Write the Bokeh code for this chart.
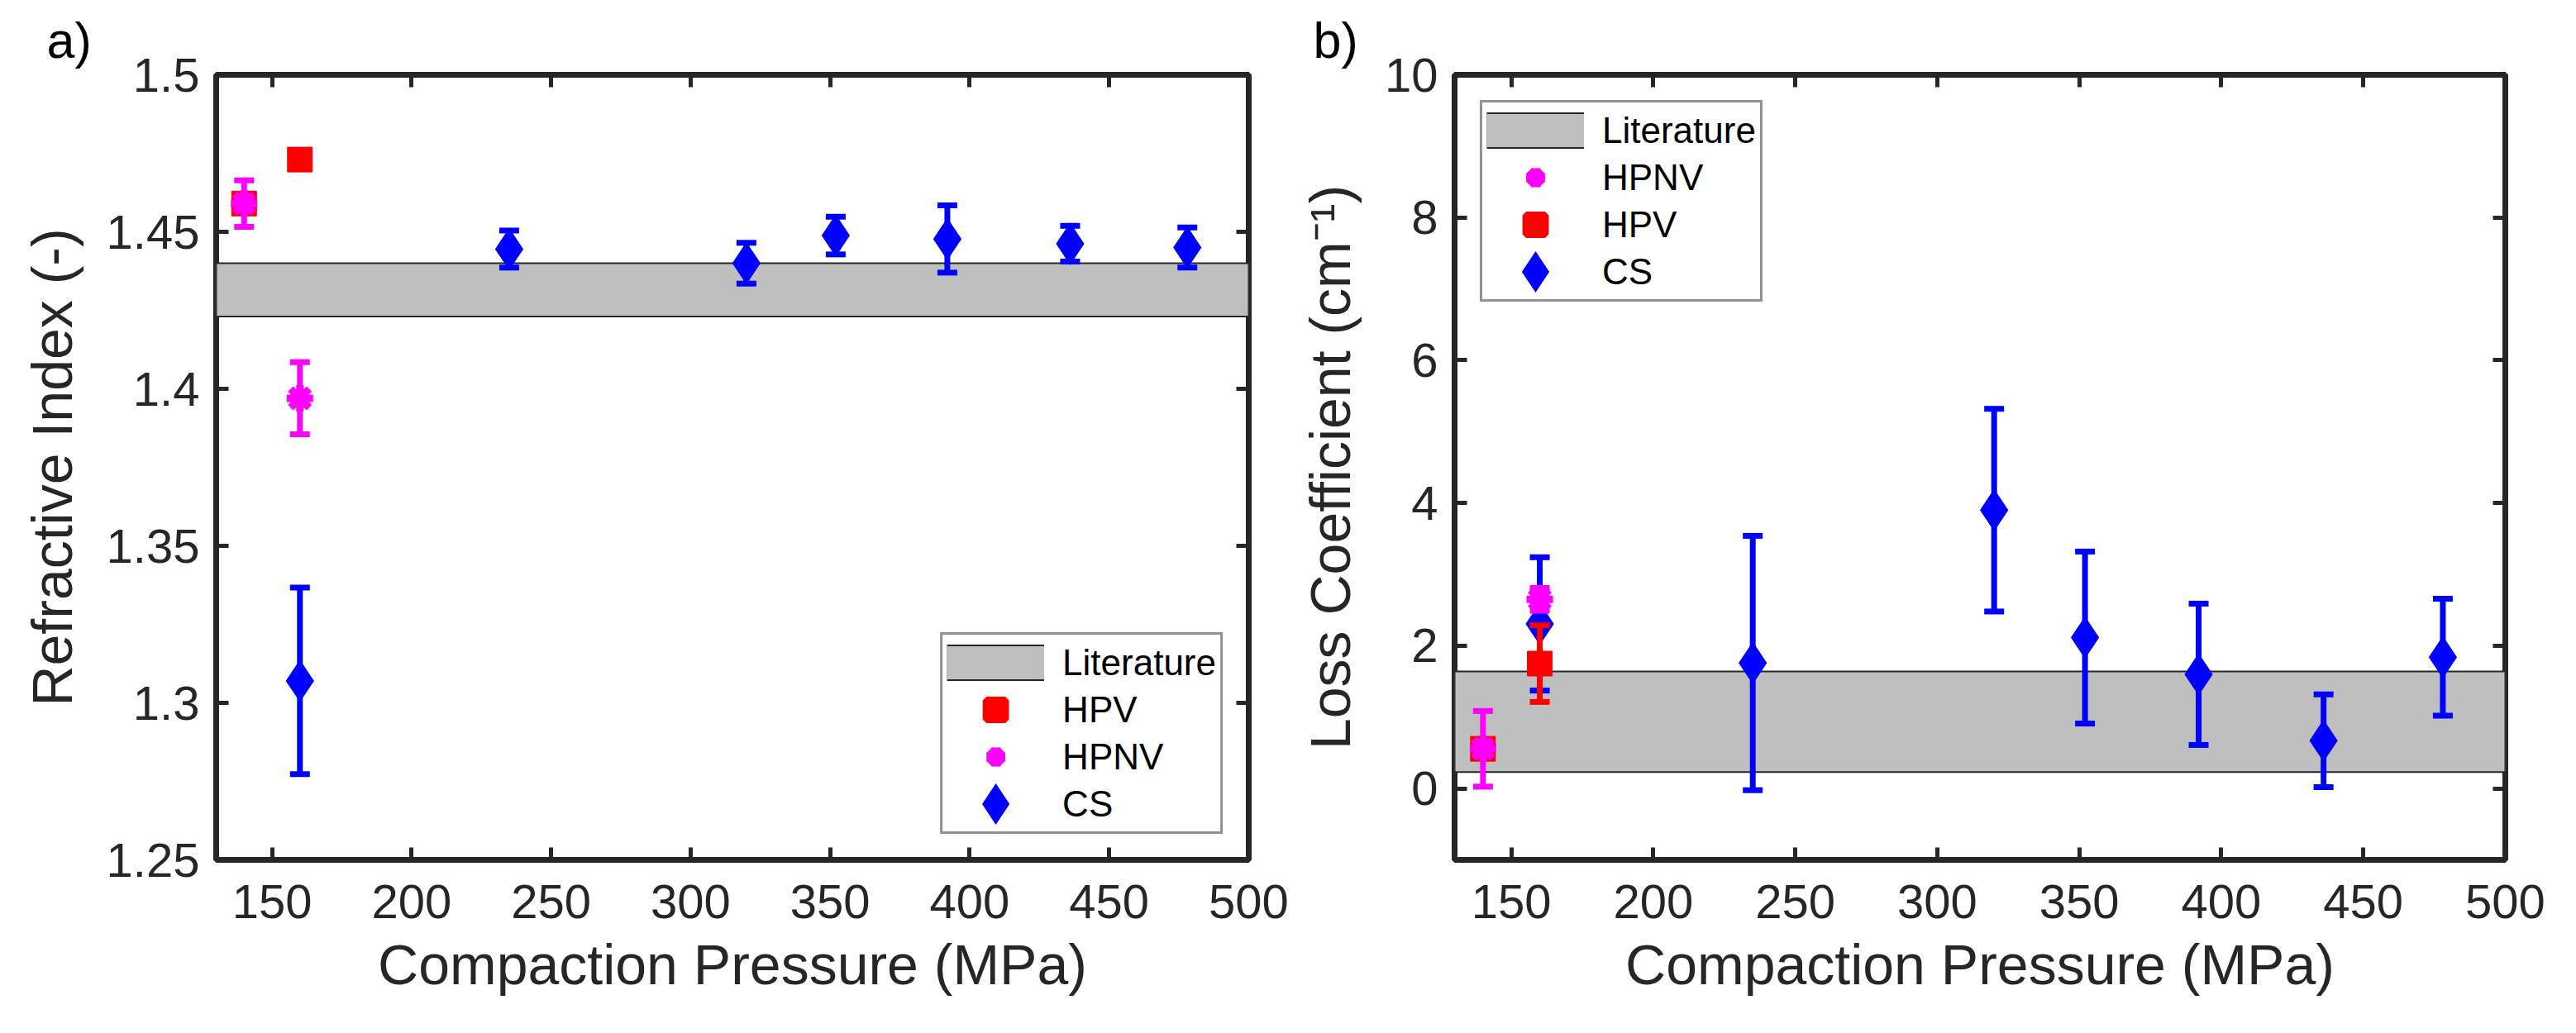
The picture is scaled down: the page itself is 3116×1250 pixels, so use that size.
import numpy as np
from bokeh.plotting import figure
from bokeh.models import (Range1d, LinearAxis, FixedTicker, CustomJSTickFormatter,
                          Legend, LegendItem, ColumnDataSource)
from bokeh.layouts import row
from bokeh.embed import file_html
from bokeh.resources import INLINE

# ---------------- data ----------------
x_limits = [130, 500]
x_ticks = [150, 200, 250, 300, 350, 400, 450, 500]

# panel a) refractive index
a_y_limits = [1.25, 1.5]
a_y_ticks = [1.25, 1.3, 1.35, 1.4, 1.45, 1.5]
a_y_tick_labels = ["1.25", "1.3", "1.35", "1.4", "1.45", "1.5"]
a_lit_band = [1.423, 1.44]
a_hpv_x = [140, 160]
a_hpv_y = [1.459, 1.473]
a_hpv_err = [0.0, 0.0]
a_hpnv_x = [140, 160]
a_hpnv_y = [1.459, 1.397]
a_hpnv_err = [0.0074, 0.0115]
a_cs_x = [160, 235, 320, 352, 392, 436, 478]
a_cs_y = [1.307, 1.4445, 1.440, 1.4488, 1.4477, 1.4462, 1.445]
a_cs_err = [0.0297, 0.0059, 0.0065, 0.0060, 0.0107, 0.0057, 0.0064]

# panel b) loss coefficient
b_y_limits = [-1, 10]
b_y_ticks = [0, 2, 4, 6, 8, 10]
b_y_tick_labels = ["0", "2", "4", "6", "8", "10"]
b_lit_band = [0.23, 1.64]
b_hpnv_x = [140, 160]
b_hpnv_y = [0.556, 2.65]
b_hpnv_err = [0.53, 0.16]
b_hpv_x = [140, 160]
b_hpv_y = [0.556, 1.75]
b_hpv_err = [0.0, 0.537]
b_cs_x = [160, 235, 320, 352, 392, 436, 478]
b_cs_y = [2.306, 1.758, 3.90, 2.115, 1.60, 0.67, 1.84]
b_cs_err = [0.934, 1.782, 1.42, 1.205, 0.99, 0.65, 0.82]

# ---------------- style ----------------
FONT = "Liberation Sans"
DARK = "#262626"
RED = "#ff0000"
MAGENTA = "#ff00ff"
BLUE = "#0000ff"
GRAY = "#bfbfbf"
NAN = float("nan")


def style_axis(ax, show_labels=True):
    ax.axis_line_color = None
    ax.major_tick_in = 15
    ax.major_tick_out = 0
    ax.minor_tick_line_color = None
    ax.major_tick_line_color = DARK
    ax.major_tick_line_width = 5
    ax.major_label_text_font = FONT
    ax.major_label_text_font_size = "58px"
    ax.major_label_text_color = DARK
    ax.axis_label_text_font = FONT
    ax.axis_label_text_font_size = "68px"
    ax.axis_label_text_font_style = "normal"
    ax.axis_label_text_color = DARK
    if not show_labels:
        ax.formatter = CustomJSTickFormatter(code="return ''")
        ax.major_label_standoff = 0


def make_fig(width, border_left, border_right, y_limits, y_ticks, y_tick_labels, y_label,
             panel_text, panel_offset):
    p = figure(width=width, height=1250,
               x_range=Range1d(*x_limits), y_range=Range1d(*y_limits),
               output_backend="svg", toolbar_location=None,
               min_border_left=border_left, min_border_right=border_right,
               min_border_top=90, min_border_bottom=210)
    p.grid.visible = False
    p.background_fill_color = "white"
    p.border_fill_color = "white"
    p.outline_line_color = DARK
    p.outline_line_width = 7

    p.title.text = panel_text
    p.title.align = "left"
    p.title.vertical_align = "top"
    p.title.offset = panel_offset
    p.title.text_font = FONT
    p.title.text_font_size = "61px"
    p.title.text_font_style = "normal"
    p.title.text_color = "black"
    p.title.standoff = 11

    xa = p.xaxis[0]
    ya = p.yaxis[0]
    style_axis(xa)
    style_axis(ya)
    xa.ticker = FixedTicker(ticks=x_ticks)
    ya.ticker = FixedTicker(ticks=y_ticks)
    ya.major_label_overrides = {t: l for t, l in zip(y_ticks, y_tick_labels)}
    xa.axis_label = "Compaction Pressure (MPa)"
    ya.axis_label = y_label
    xa.major_label_standoff = 30
    xa.axis_label_standoff = 15
    ya.major_label_standoff = 20
    ya.axis_label_standoff = 25

    top = LinearAxis(ticker=FixedTicker(ticks=x_ticks))
    style_axis(top, show_labels=False)
    p.add_layout(top, "above")
    right = LinearAxis(ticker=FixedTicker(ticks=y_ticks))
    style_axis(right, show_labels=False)
    p.add_layout(right, "right")
    return p


def add_band(p, band):
    p.quad(left=[x_limits[0]], right=[x_limits[1]], bottom=[band[0]], top=[band[1]],
           fill_color=GRAY, line_color=DARK, line_width=2)


def add_series(p, xs, ys, errs, color, marker, size, **mk):
    x = np.array(xs, dtype=float)
    y = np.array(ys, dtype=float)
    e = np.array(errs, dtype=float)
    src = ColumnDataSource(dict(x=x, y=y, lo=y - e, hi=y + e))
    p.segment(x0="x", y0="lo", x1="x", y1="hi", source=src, line_color=color, line_width=7)
    p.scatter(x="x", y="lo", source=src, marker="dash", size=24, line_color=color, line_width=7)
    p.scatter(x="x", y="hi", source=src, marker="dash", size=24, line_color=color, line_width=7)
    p.scatter(x="x", y="y", source=src, marker=marker, size=size,
              fill_color=color, line_color=color, **mk)


def legend_renderers(p):
    # legend-only swatches (no visible data)
    lit_edge = p.line(x=[NAN], y=[NAN], line_color=DARK, line_width=44)
    lit_fill = p.line(x=[NAN], y=[NAN], line_color=GRAY, line_width=40)
    hpv = p.scatter(x=[NAN], y=[NAN], marker="square", fill_color=RED, line_color=RED, line_width=9)
    hpnv = p.scatter(x=[NAN], y=[NAN], marker="asterisk", line_color=MAGENTA, line_width=11)
    cs = p.scatter(x=[NAN], y=[NAN], marker="diamond", fill_color=BLUE, line_color=BLUE,
                   line_width=15, line_join="miter")
    return {"Literature": [lit_edge, lit_fill], "HPV": [hpv], "HPNV": [hpnv], "CS": [cs]}


def add_legend(p, order, location):
    rs = legend_renderers(p)
    items = [LegendItem(label=k, renderers=rs[k]) for k in order]
    lg = Legend(items=items, location=location, glyph_width=118, glyph_height=57,
                spacing=0, padding=5, label_standoff=22,
                label_text_font=FONT, label_text_font_size="44px", label_text_color="black",
                border_line_color=DARK, border_line_width=3,
                background_fill_color="white", background_fill_alpha=1.0, margin=31)
    p.add_layout(lg)


# ---------------- panel a ----------------
pa = make_fig(1560, 261, 50, a_y_limits, a_y_ticks, a_y_tick_labels, "Refractive Index (-)",
              "a)", -205)
add_band(pa, a_lit_band)
add_series(pa, a_cs_x, a_cs_y, a_cs_err, BLUE, "diamond", 46, line_width=3, line_join="miter")
add_series(pa, a_hpv_x, a_hpv_y, a_hpv_err, RED, "square", 30)
add_series(pa, a_hpnv_x, a_hpnv_y, a_hpnv_err, MAGENTA, "asterisk", 32, line_width=9)
add_legend(pa, ["Literature", "HPV", "HPNV", "CS"], "bottom_right")

# ---------------- panel b ----------------
pb = make_fig(1556, 199, 86, b_y_limits, b_y_ticks, b_y_tick_labels, "Loss Coefficient (cm\u207b\u00b9)",
              "b)", -171)
add_band(pb, b_lit_band)
add_series(pb, b_cs_x, b_cs_y, b_cs_err, BLUE, "diamond", 46, line_width=3, line_join="miter")
add_series(pb, b_hpv_x, b_hpv_y, b_hpv_err, RED, "square", 30)
add_series(pb, b_hpnv_x, b_hpnv_y, b_hpnv_err, MAGENTA, "asterisk", 32, line_width=9)
add_legend(pb, ["Literature", "HPNV", "HPV", "CS"], "top_left")

layout = row(pa, pb)
open("out.html", "w").write(file_html(layout, INLINE))
